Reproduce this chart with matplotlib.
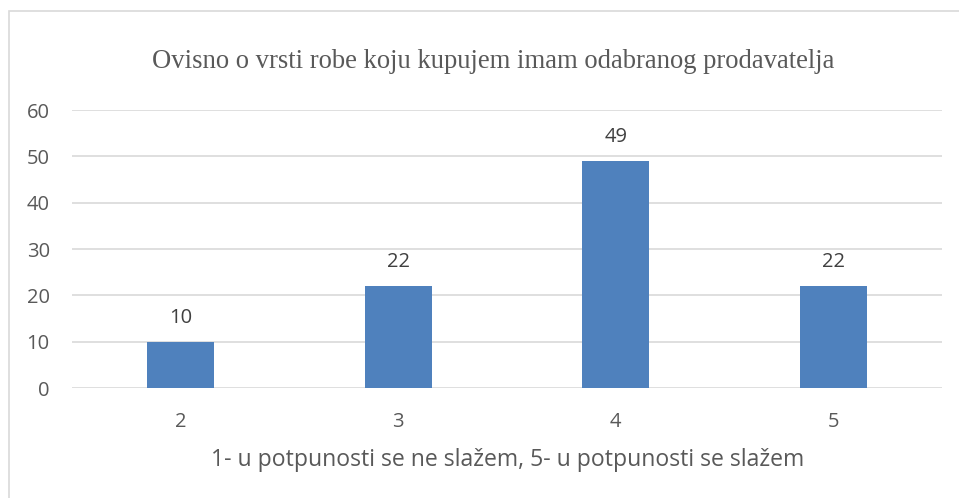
import matplotlib.pyplot as plt
from matplotlib.patches import Rectangle

categories = ['2', '3', '4', '5']
values = [10, 22, 49, 22]
yticks = [0, 10, 20, 30, 40, 50, 60]

title = 'Ovisno o vrsti robe koju kupujem imam odabranog prodavatelja'
xlabel = '1- u potpunosti se ne slažem, 5- u potpunosti se slažem'

fig = plt.figure(figsize=(9.59, 4.98), dpi=100)
fig.patch.set_facecolor('white')

# okvir grafikona
fig.patches.append(Rectangle((9 / 959, -0.1), 1.2, 1 - 11 / 498 + 0.1,
                             transform=fig.transFigure, fill=False,
                             edgecolor='#d9d9d9', linewidth=1.2))

ax = fig.add_axes([72 / 959, 1 - 388 / 498, 870 / 959, 278 / 498])
x = list(range(len(categories)))
bars = ax.bar(x, values, width=0.31, color='#4f81bd', zorder=3)

ax.set_xlim(-0.5, len(categories) - 0.5)
ax.set_ylim(0, 60)
ax.set_yticks(yticks)
ax.set_xticks(x)
ax.set_xticklabels(categories)
ax.grid(axis='y', color='#d9d9d9', linewidth=1.2, zorder=0)
for s in ax.spines.values():
    s.set_visible(False)
ax.tick_params(length=0, labelsize=14.5, colors='#595959', labelfontfamily='Open Sans')
ax.tick_params(axis='y', pad=16)
ax.tick_params(axis='x', pad=17)

for b, v in zip(bars, values):
    ax.text(b.get_x() + b.get_width() / 2, v + 3.0, str(v), ha='center', va='bottom',
            fontsize=14.5, color='#404040', family='Open Sans')

fig.text(493.5 / 959, 1 - 62 / 498, title, ha='center', va='center', fontsize=19.15,
         color='#595959', family='Liberation Serif')
fig.text(507.5 / 959, 1 - 460 / 498, xlabel, ha='center', va='center', fontsize=16.6,
         color='#595959', family='Open Sans')

fig.savefig('out.png', dpi=100)
